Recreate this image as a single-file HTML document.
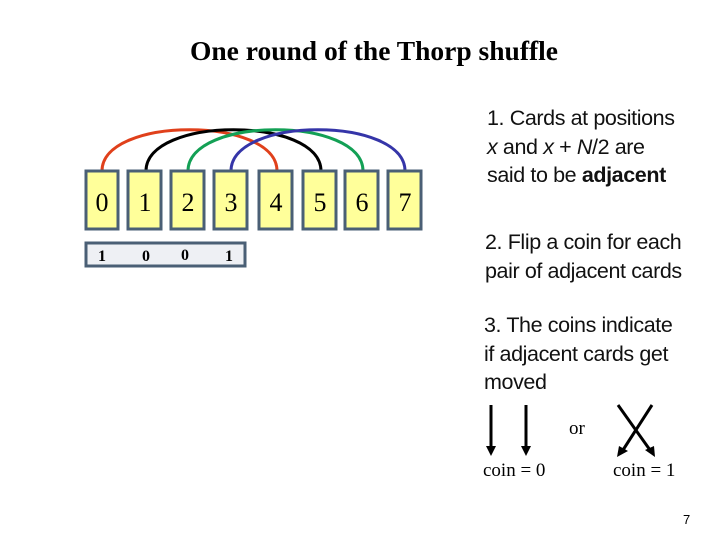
<!DOCTYPE html>
<html><head><meta charset="utf-8"><style>
body{margin:0;width:720px;height:540px;background:#fff;position:relative;overflow:hidden;font-family:"Liberation Serif",serif}
.t{position:absolute;white-space:nowrap}
.r{font-family:"Liberation Sans",sans-serif;font-size:21.5px;line-height:28.7px;letter-spacing:-0.4px;color:#111}
</style></head><body>
<div class="t" style="left:0;width:748px;text-align:center;top:35px;font-size:27.5px;font-weight:bold">One round of the Thorp shuffle</div>
<svg width="720" height="540" style="position:absolute;left:0;top:0">
<g fill="none" stroke-width="3">
<path d="M102,171 C102,116 277,116 277,171" stroke="#e0401b"/>
<path d="M146,171 C146,116 321,116 321,171" stroke="#000"/>
<path d="M188,171 C188,116 363,116 363,171" stroke="#13a055"/>
<path d="M231,171 C231,116 405,116 405,171" stroke="#3535a8"/>
</g>
<g fill="#ffff9a" stroke="#4a5f75" stroke-width="3">
<rect x="86" y="171" width="32" height="58"/><rect x="128" y="171" width="33" height="58"/>
<rect x="171" y="171" width="33" height="58"/><rect x="214" y="171" width="33" height="58"/>
<rect x="259" y="171" width="33" height="58"/><rect x="303" y="171" width="33" height="58"/>
<rect x="345" y="171" width="33" height="58"/><rect x="388" y="171" width="33" height="58"/>
</g>
<rect x="86" y="243" width="159" height="23" fill="#eef0f4" stroke="#4a5f75" stroke-width="3"/>
<g font-family="Liberation Serif" font-size="26" text-anchor="middle">
<text x="102" y="211">0</text><text x="145" y="211">1</text><text x="188" y="211">2</text><text x="231" y="211">3</text>
<text x="276" y="211">4</text><text x="320" y="211">5</text><text x="362" y="211">6</text><text x="405" y="211">7</text>
</g>
<g font-family="Liberation Serif" font-size="16" font-weight="bold" text-anchor="middle">
<text x="102" y="261">1</text><text x="146" y="261">0</text><text x="185" y="260">0</text><text x="229" y="261">1</text>
</g>
<g stroke="#000" stroke-width="3" fill="#000">
<line x1="491" y1="405" x2="491" y2="448"/><polygon points="486,446 496,446 491,456" stroke="none"/>
<line x1="526" y1="405" x2="526" y2="448"/><polygon points="521,446 531,446 526,456" stroke="none"/>
<line x1="618" y1="405" x2="650" y2="450"/><polygon points="645,450 654,446 655,457" stroke="none"/>
<line x1="652" y1="405" x2="623" y2="450"/><polygon points="619,446 628,451 617,457" stroke="none"/>
</g>
<g font-family="Liberation Serif" font-size="19">
<text x="569" y="434">or</text><text x="483" y="476">coin = 0</text><text x="613" y="476">coin = 1</text>
</g>
<text x="683" y="524" font-family="Liberation Sans" font-size="13">7</text>
</svg>
<div class="t r" style="left:487px;top:104px">1. Cards at positions<br><i>x</i> and <i>x</i> + <i>N</i>/2 are<br>said to be <b>adjacent</b></div>
<div class="t r" style="left:485px;top:228px">2. Flip a coin for each<br>pair of adjacent cards</div>
<div class="t r" style="left:484px;top:311px">3. The coins indicate<br>if adjacent cards get<br>moved</div>
</body></html>
